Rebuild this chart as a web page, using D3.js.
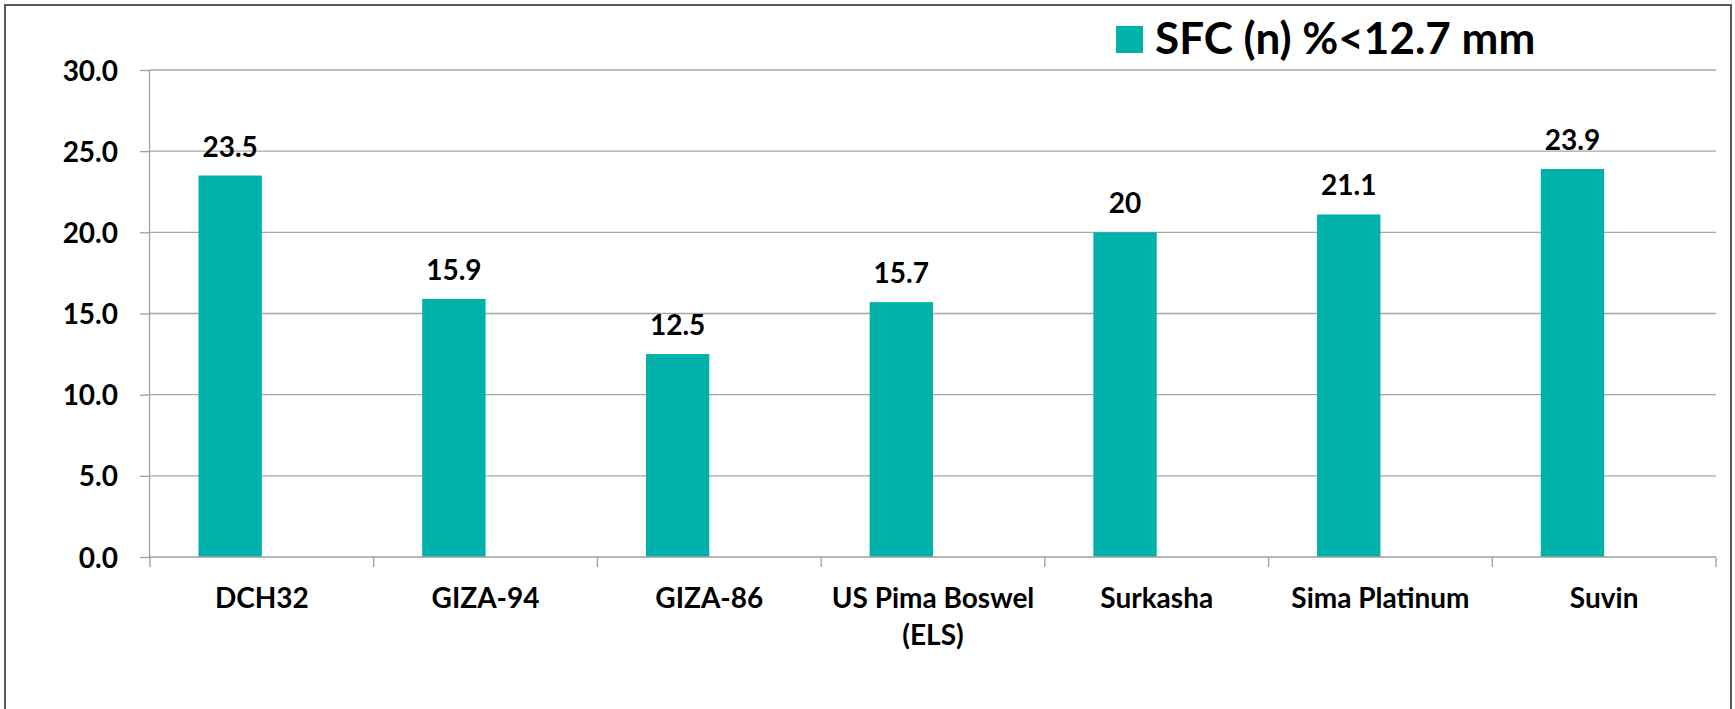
<!DOCTYPE html>
<meta charset="utf-8">
<title>SFC (n) %&lt;12.7 mm</title>
<style>
    body { margin: 0; background: #fff; }
    svg text { font-family: Lato, "Liberation Sans", sans-serif; font-weight: bold; fill: #000; }
    .grid line { stroke: #a6a6a6; stroke-width: 1.3px; }
    .axis path, .axis line { stroke: #a0a0a0; stroke-width: 1.3px; }
</style>
<body>
<div id="my_chart"></div>
<script src="https://d3js.org/d3.v7.min.js"></script>
<script>

// chart data
var categories = ["DCH32", "GIZA-94", "GIZA-86", "US Pima Boswel (ELS)", "Surkasha", "Sima Platinum", "Suvin"];
var categoryLines = [["DCH32"], ["GIZA-94"], ["GIZA-86"], ["US Pima Boswel", "(ELS)"], ["Surkasha"], ["Sima Platinum"], ["Suvin"]];
var sfcValues = [23.5, 15.9, 12.5, 15.7, 20, 21.1, 23.9];
var valueLabels = ["23.5", "15.9", "12.5", "15.7", "20", "21.1", "23.9"];
var seriesSlots = ["SFC (n) %<12.7 mm", "blank"];
var yTicks = [0, 5, 10, 15, 20, 25, 30];
var yTickLabels = ["0.0", "5.0", "10.0", "15.0", "20.0", "25.0", "30.0"];

// set the dimensions and margins of the graph
var W = 1735, H = 709;
var margin = { top: 70, right: 19, bottom: 152, left: 150 },
    width = W - margin.left - margin.right,
    height = H - margin.top - margin.bottom;

var svg = d3.select("#my_chart")
    .append("svg")
    .attr("width", W)
    .attr("height", H);

// outer frame (bottom edge falls outside the picture)
svg.append("rect")
    .attr("x", 5).attr("y", 5)
    .attr("width", 1726).attr("height", 720)
    .attr("fill", "none")
    .attr("stroke", "#5a5a5a")
    .attr("stroke-width", 2);

var g = svg.append("g")
    .attr("transform", "translate(" + margin.left + "," + margin.top + ")");

// scales
var x0 = d3.scaleBand().domain(categories).range([0, width]).paddingInner(0).paddingOuter(0);
var x1 = d3.scaleBand().domain(seriesSlots).range([0, x0.bandwidth()]).paddingInner(0).paddingOuter(0.765);
var y = d3.scaleLinear().domain([0, 30]).range([height, 0]);

// gridlines
g.append("g")
    .attr("class", "grid")
    .selectAll("line")
    .data(yTicks.slice(1))
    .enter().append("line")
    .attr("x1", 0).attr("x2", width)
    .attr("y1", function (d) { return y(d); })
    .attr("y2", function (d) { return y(d); });

// bars
g.selectAll(".bar")
    .data(sfcValues)
    .enter().append("rect")
    .attr("class", "bar")
    .attr("x", function (d, i) { return x0(categories[i]) + x1(seriesSlots[0]); })
    .attr("width", x1.bandwidth())
    .attr("y", function (d) { return y(d); })
    .attr("height", function (d) { return height - y(d); })
    .attr("fill", "#00b2aa");

// value labels
g.selectAll(".vlabel")
    .data(sfcValues)
    .enter().append("text")
    .attr("class", "vlabel")
    .attr("x", function (d, i) { return x0(categories[i]) + x1(seriesSlots[0]) + x1.bandwidth() / 2; })
    .attr("y", function (d) { return y(d) - 19; })
    .attr("text-anchor", "middle")
    .attr("font-size", "28px")
    .text(function (d, i) { return valueLabels[i]; });

// Y axis
var yAxis = g.append("g")
    .attr("class", "axis")
    .call(d3.axisLeft(y).tickValues(yTicks).tickSize(10).tickPadding(22)
        .tickFormat(function (d, i) { return yTickLabels[i]; }));
yAxis.select(".domain").attr("d", "M-0.5," + height + "V0");
yAxis.selectAll("text").attr("font-size", "28px").attr("dy", "0.36em").style("font-family", null);

// X axis (ticks at band edges)
var xEdges = categories.map(function (c) { return x0(c); }).concat([width]);
var xAxis = g.append("g")
    .attr("class", "axis")
    .attr("transform", "translate(0," + height + ")");
xAxis.append("line").attr("x1", 0).attr("x2", width).attr("y1", 0).attr("y2", 0);
xAxis.selectAll(".xtick")
    .data(xEdges)
    .enter().append("line")
    .attr("class", "xtick")
    .attr("x1", function (d) { return d; }).attr("x2", function (d) { return d; })
    .attr("y1", 0).attr("y2", 10);

// category labels
var xl = xAxis.selectAll(".xlabel")
    .data(categoryLines)
    .enter().append("text")
    .attr("class", "xlabel")
    .attr("text-anchor", "middle")
    .attr("font-size", "28px")
    .attr("transform", function (d, i) { return "translate(" + (x0(categories[i]) + x0.bandwidth() / 2) + ",51)"; });
xl.selectAll("tspan")
    .data(function (d) { return d; })
    .enter().append("tspan")
    .attr("x", 0)
    .attr("dy", function (d, j) { return j === 0 ? 0 : 36.5; })
    .text(function (d) { return d; });

// legend
var legend = svg.append("g").attr("transform", "translate(1116,26)");
legend.append("rect")
    .attr("width", 27).attr("height", 27)
    .attr("fill", "#00b2aa");
legend.append("text")
    .attr("x", 39).attr("y", 27.5)
    .attr("font-size", "44px")
    .text(seriesSlots[0]);

</script>
</body>
